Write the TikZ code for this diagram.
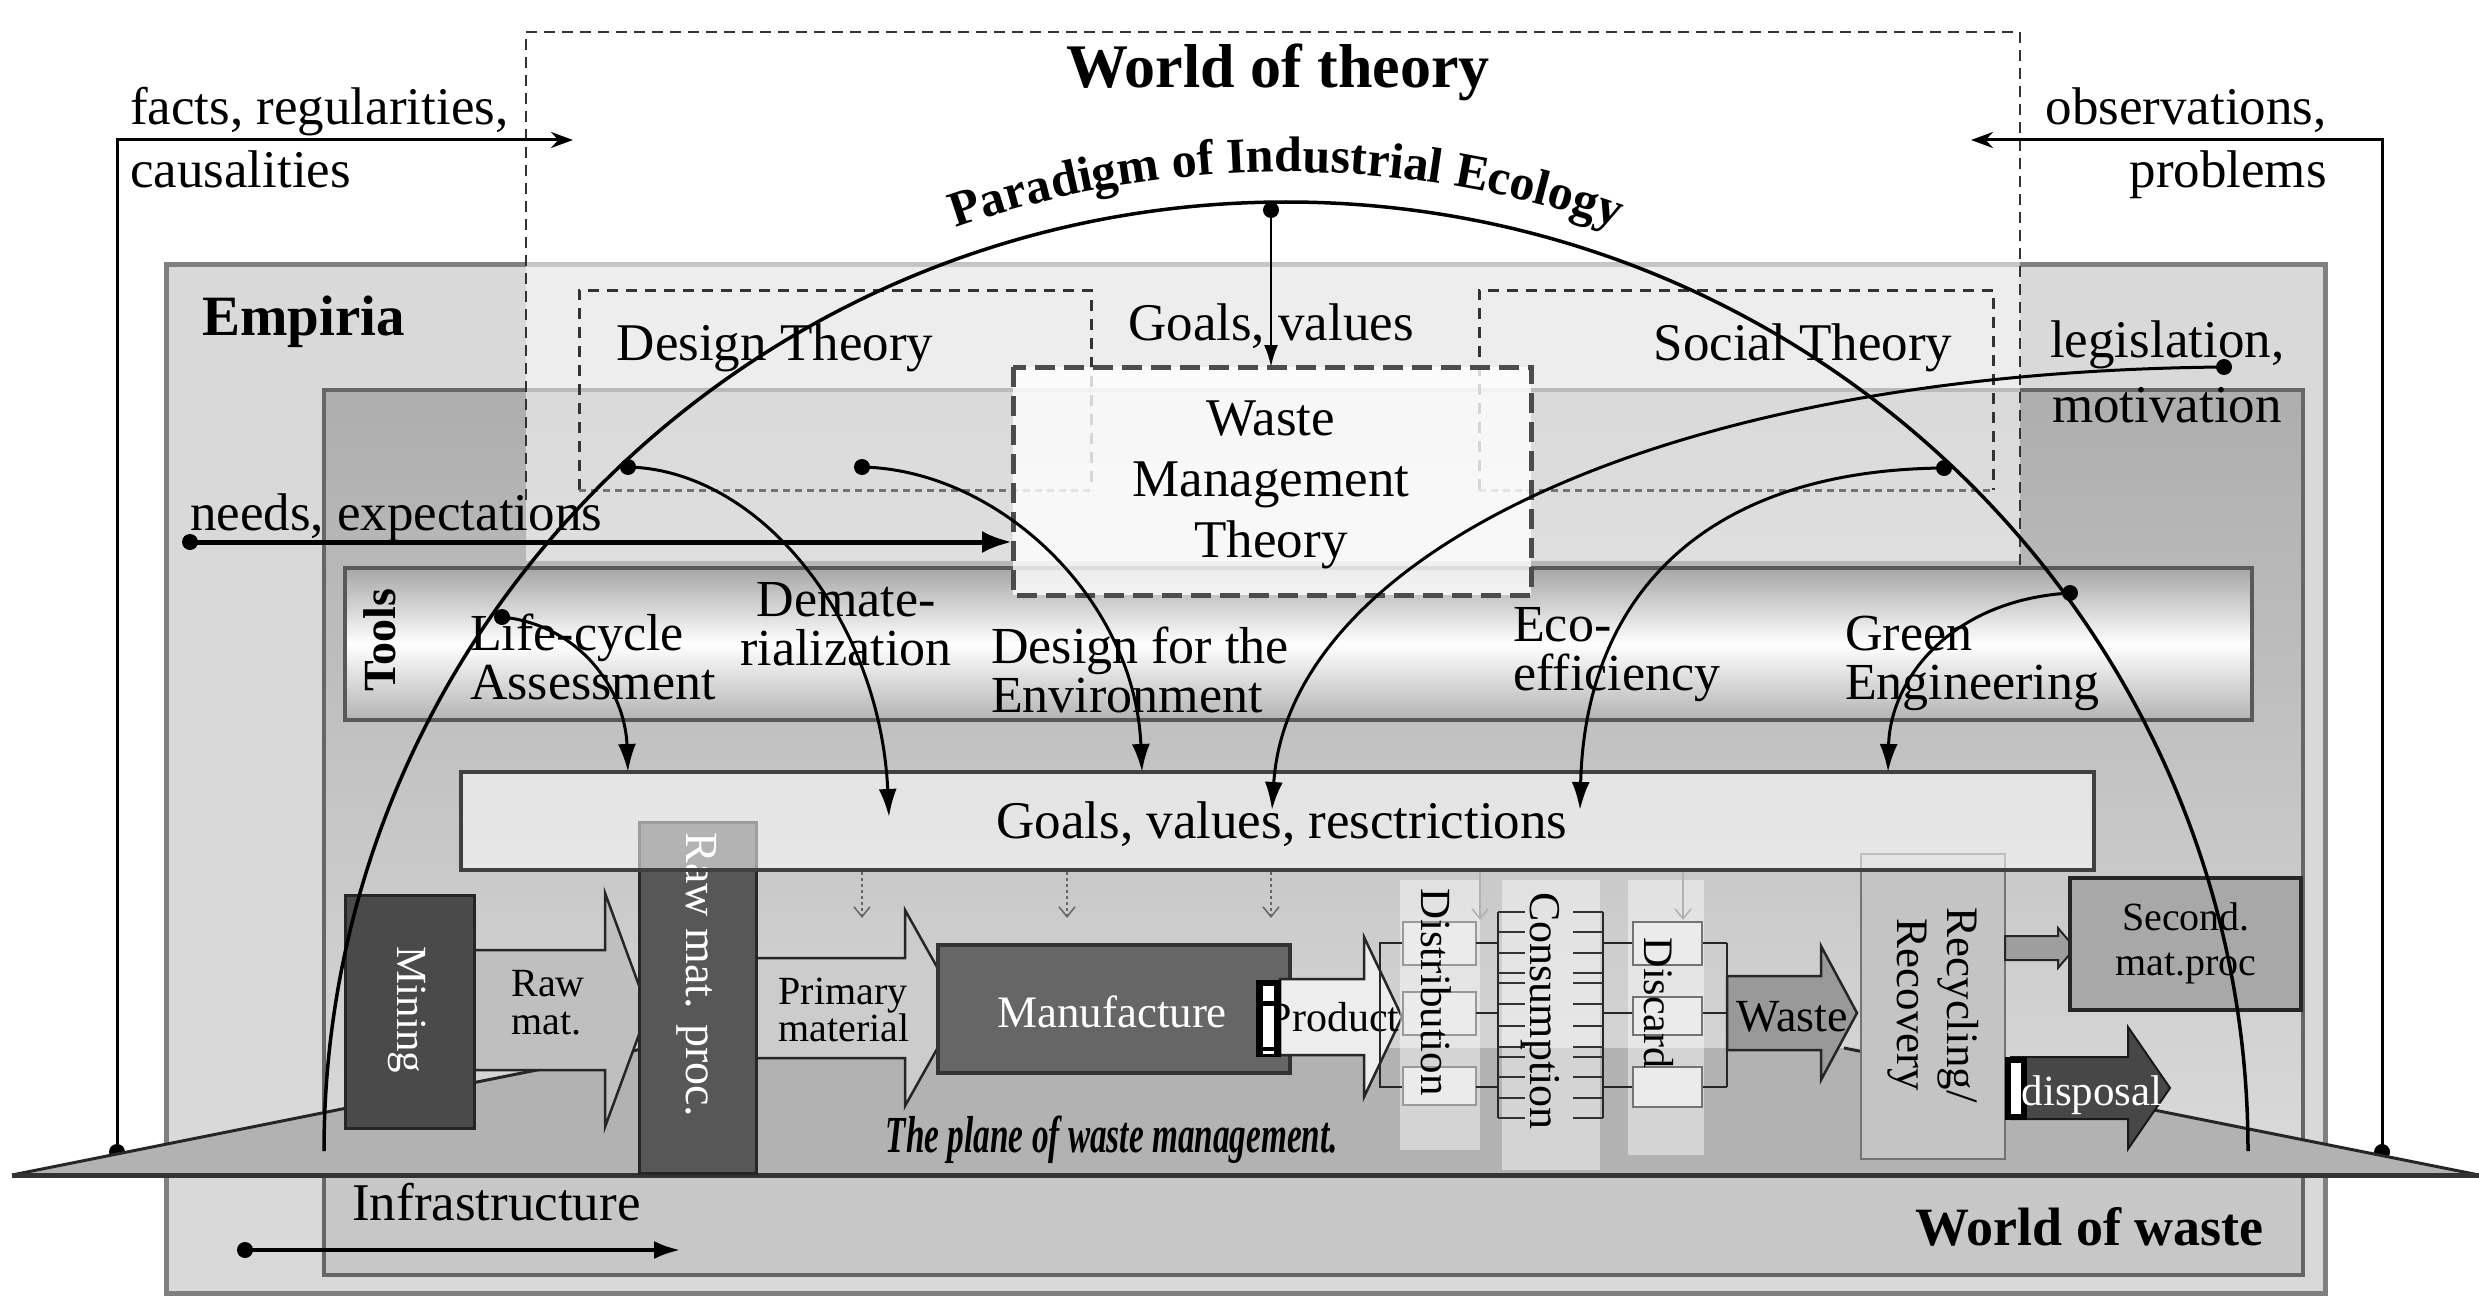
\documentclass[tikz,border=0pt]{standalone}
\usepackage{fontspec}
\setmainfont{Liberation Serif}
\usepackage{graphicx}
\usetikzlibrary{arrows.meta,decorations.text}
\newcommand\blockarrow[7]{%
  \draw[#7] (#1,#4-#5) -- (#2,#4-#5) -- (#2,#4-#6) -- (#3,#4) -- (#2,#4+#6) -- (#2,#4+#5) -- (#1,#4+#5) -- cycle;}
\tikzset{
  txt/.style={font=\fontsize{53}{60}\selectfont, inner sep=0pt},
  tooltxt/.style={font=\fontsize{52}{49}\selectfont, inner sep=0pt},
  ptxt/.style={font=\fontsize{43}{44}\selectfont, inner sep=0pt},
  btxt/.style={font=\fontsize{#1}{#1}\selectfont\bfseries, inner sep=0pt},
  dotn/.style={circle, fill=black, inner sep=0pt, minimum size=16pt},
  curv/.style={line width=3pt, -{Latex[length=28pt,width=18pt]}},
  thindash/.style={draw=black!80, line width=2pt, dash pattern=on 11pt off 7pt},
  theodash/.style={draw=black!80, line width=3pt, dash pattern=on 11pt off 8pt},
  theodot/.style={draw=black!55, line width=3pt, dash pattern=on 7pt off 5pt},
  wmtdash/.style={draw=black!70, line width=5pt, dash pattern=on 20pt off 9pt},
  dotarr/.style={draw=black!60, line width=1.5pt, dash pattern=on 3pt off 3pt, -{Straight Barb[length=10pt,width=16pt]}},
  lightarr/.style={draw=black!30, line width=1.5pt, -{Straight Barb[length=10pt,width=16pt]}},
  proc/.style={draw=black!85, line width=3pt},
  lnk/.style={draw=black!85, line width=2.5pt},
  smallbox/.style={draw=black!40, line width=2pt, fill=black!8},
}
\begin{document}
\begin{tikzpicture}[x=1pt,y=-1pt]
\useasboundingbox (0,0) rectangle (2479,1300);
\fill[white] (0,0) rectangle (2479,1300);

% ---------- outer boxes ----------
\draw[line width=5pt, draw=black!50, fill=black!15] (166,264) rectangle (2325,1293);
\draw[line width=4pt, draw=black!60, top color=black!32, bottom color=black!12] (324,390) rectangle (2303,1275);
\fill[black!22] (326,1175) rectangle (2301,1273);

% ---------- world of theory ----------
\fill[white, opacity=.55] (526,32) rectangle (2020,561);
\draw[thindash] (526,500) -- (526,32) -- (2020,32) -- (2020,565);

\draw[theodash] (579,490) -- (579,290) -- (1091,290) -- (1091,490);
\draw[theodot] (579,490) -- (1091,490);
\draw[theodash] (1479,490) -- (1479,290) -- (1993,290) -- (1993,490);
\draw[theodot] (1479,490) -- (1993,490);

% ---------- facts / observations ----------
\node[dotn] (dFacts) at (117,1152) {};
\coordinate (cFacts) at (117,140);
\coordinate (eFacts) at (573,140);
\draw[line width=3pt, -{Stealth[length=22pt,width=16pt]}] (dFacts.center) -- (cFacts) -- (eFacts);
\node[dotn] (dObs) at (2382,1152) {};
\coordinate (cObs) at (2382,140);
\coordinate (eObs) at (1971,140);
\draw[line width=3pt, -{Stealth[length=22pt,width=16pt]}] (dObs.center) -- (cObs) -- (eObs);

% ---------- needs ----------
\node[dotn] (dNeeds) at (190,542) {};
\coordinate (eNeeds) at (1012,542);
\draw[line width=5pt, -{Latex[length=30pt,width=22pt]}] (dNeeds.center) -- (eNeeds);

% ---------- tools ----------
\draw[line width=3.5pt, draw=black!65, top color=black!35, bottom color=black!30, middle color=white] (345,568) rectangle (2252,720);
\node[btxt=46, rotate=90] (tools) at (380,640) {Tools};
\node[tooltxt, align=left, anchor=west] (lca) at (470,657) {Life-cycle\\Assessment};
\node[tooltxt, align=center] (demat) at (846,624) {Demate-\\rialization};
\node[tooltxt, align=left, anchor=west] (dfe) at (991,670) {Design for the\\Environment};
\node[tooltxt, align=left, anchor=west] (eco) at (1513,655) {Eco-\\efficiency};
\node[tooltxt, align=left, anchor=west] (green) at (1845,663) {Green\\Engineering};

% ---------- plane ----------
\fill[black!30] (12,1175) -- (647,1048) -- (1844,1048) -- (2479,1175) -- cycle;
\draw[line width=3pt, black!85] (12,1175) -- (647,1048);
\draw[line width=3pt, black!85] (1844,1048) -- (2479,1175);
\draw[line width=5pt, black!80] (12,1175) -- (2479,1175);

% ---------- process row ----------
\blockarrow{474}{605}{648}{1010}{60}{117}{fill=black!25, draw=black!85, line width=2.5pt}
\draw[proc, fill=black!71] (345,895) rectangle (474,1128);
\node[ptxt, white, rotate=-90] (mining) at (407,1010) {Mining};
\node[inner sep=0pt, align=left, font=\fontsize{40}{38}\selectfont] (rawmat) at (548,1003) {Raw\\mat.};

\blockarrow{756}{905}{960}{1008}{50}{98}{fill=black!20, draw=black!85, line width=2.5pt}
\node[inner sep=0pt, align=left, font=\fontsize{40}{36}\selectfont] (primary) at (844,1010) {Primary\\material};

\draw[draw=black!80, line width=4pt, fill=black!60] (938,945) rectangle (1290,1073);
\node[white, inner sep=0pt, font=\fontsize{45}{45}\selectfont] (manuf) at (1112,1012) {Manufacture};

\blockarrow{1280}{1364}{1402}{1017}{38}{80}{fill=black!7, draw=black!85, line width=2.5pt}
\node[ptxt, font=\fontsize{42}{42}\selectfont] (product) at (1334,1017) {Product};
\fill[black] (1256,980) rectangle (1281,1057);
\fill[white] (1263,986) rectangle (1274,1001);
\fill[white] (1263,1006) rectangle (1274,1047);
\fill[white] (1263,1051) rectangle (1274,1054);

% light columns
\fill[white, opacity=.45] (1400,880) rectangle (1480,1150);
\fill[white, opacity=.45] (1502,880) rectangle (1600,1170);
\fill[white, opacity=.45] (1628,880) rectangle (1704,1155);

% distribution
\draw[lnk] (1405,943) -- (1380,943) -- (1380,1087) -- (1405,1087);
\draw[smallbox] (1403,922) rectangle (1476,965);
\draw[smallbox] (1403,992) rectangle (1476,1035);
\draw[smallbox] (1403,1067) rectangle (1476,1105);
\foreach \yy in {943,1013,1087} {\draw[lnk] (1476,\yy) -- (1498,\yy); \draw[lnk] (1603,\yy) -- (1633,\yy); \draw[lnk] (1702,\yy) -- (1727,\yy);}
\draw[lnk] (1727,943) -- (1727,1087);
% consumption comb
\draw[lnk] (1498,912) -- (1498,1118);
\draw[lnk] (1603,912) -- (1603,1118);
\foreach \yy in {912,932,953,973,983,1004,1026,1047,1057,1077,1098,1118} {\draw[draw=black!80, line width=2pt] (1498,\yy) -- (1525,\yy); \draw[draw=black!80, line width=2pt] (1573,\yy) -- (1603,\yy);}
% discard
\draw[smallbox, draw=black!55] (1633,922) rectangle (1702,965);
\draw[smallbox, draw=black!55] (1633,997) rectangle (1702,1035);
\draw[smallbox, draw=black!55] (1633,1067) rectangle (1702,1107);
\node[ptxt, rotate=-90] (distr) at (1436,992) {Distribution};
\node[ptxt, font=\fontsize{44}{44}\selectfont, rotate=-90] (consum) at (1540,1011) {Consumption};
\node[ptxt, font=\fontsize{42}{42}\selectfont, rotate=-90] (discard) at (1659,1003) {Discard};

\blockarrow{1727}{1821}{1857}{1013}{37}{67}{fill=black!40, draw=black!85, line width=2.5pt}
\node[inner sep=0pt, font=\fontsize{46}{46}\selectfont] (waste) at (1792,1017) {Waste};

\draw[draw=black!55, line width=2.5pt, fill=black!23] (1861,854) rectangle (2005,1159);
\node[inner sep=0pt, align=center, font=\fontsize{45}{50}\selectfont, rotate=-90] (recyc) at (1933,1005) {Recycling/\\Recovery};

\blockarrow{2005}{2058}{2075}{948}{12}{20}{fill=black!38, draw=black!85, line width=2pt}
\draw[draw=black!85, line width=4pt, fill=black!34] (2070,878) rectangle (2301,1010);
\node[inner sep=0pt, align=center, font=\fontsize{40}{45}\selectfont] (second) at (2186,943) {Second.\\mat.proc};

\blockarrow{2011}{2128}{2170}{1088}{31}{61}{fill=black!72, draw=black!90, line width=2pt}
\fill[black] (2005,1057) rectangle (2027,1120);
\fill[white] (2011,1063) rectangle (2021,1114);
\node[white, inner sep=0pt, font=\fontsize{43}{43}\selectfont] (disposal) at (2092,1095) {disposal};

% raw mat proc
\draw[proc, fill=black!66] (639,822) rectangle (756,1173);
\node[white, inner sep=0pt, font=\fontsize{46}{46}\selectfont, rotate=-90] (rawproc) at (697,975) {Raw mat. proc.};

\node[inner sep=0pt, font=\fontsize{52}{52}\selectfont\bfseries\itshape] (plane) at (1112,1140) {\scalebox{0.64}[1]{The plane of waste management.}};

% ---------- goals box ----------
\draw[line width=3.5pt, draw=black!75, fill=white, fill opacity=.55] (461,772) rectangle (2094,870);
\node[txt, anchor=base] (gvr) at (1282,838) {Goals, values, resctrictions};
\foreach \xx in {862,1067,1271} {\draw[dotarr] (\xx,872) -- (\xx,918);}
\foreach \xx in {1480,1683} {\draw[lightarr] (\xx,872) -- (\xx,920);}

% ---------- waste management theory ----------
\draw[wmtdash, fill=white, fill opacity=.8] (1013,367) rectangle (1531,595);
\node[inner sep=0pt, align=center, font=\fontsize{53}{61}\selectfont] (wmt) at (1271,485) {Waste\\Management\\Theory};

% ---------- paradigm arc ----------
\draw[line width=3.5pt] (324,1151) arc[start angle=180, end angle=360, x radius=962, y radius=949];
\path[decorate, decoration={text along path, text align=center,
  text={|\fontsize{50}{50}\selectfont\bfseries|Paradigm of Industrial Ecology}}]
  (717,349) arc[start angle=235, end angle=305, x radius=992, y radius=979];

% ---------- curved arrows ----------
\node[dotn] (dTop) at (1271,210) {};
\coordinate (eTop) at (1271,367);
\draw[line width=2.5pt, -{Latex[length=22pt,width=14pt]}] (dTop.center) -- (eTop);

\node[dotn] (dLeg) at (2224,367) {};
\coordinate (eLeg) at (1272,810);
\draw[curv] (dLeg.center) .. controls (1650,372) and (1288,560) .. (eLeg);

\node[dotn] (dEco) at (1944,468) {};
\coordinate (eEco) at (1580,810);
\draw[curv] (dEco.center) .. controls (1700,470) and (1585,600) .. (eEco);

\node[dotn] (dGreen) at (2070,593) {};
\coordinate (eGreen) at (1888,772);
\draw[curv] (dGreen.center) .. controls (1950,600) and (1890,680) .. (eGreen);

\node[dotn] (dDesign) at (628,467) {};
\coordinate (eDesign) at (889,817);
\draw[curv] (dDesign.center) .. controls (760,470) and (880,620) .. (eDesign);

\node[dotn] (dDesign2) at (862,467) {};
\coordinate (eDesign2) at (1142,772);
\draw[curv] (dDesign2.center) .. controls (1000,470) and (1135,600) .. (eDesign2);

\node[dotn] (dLCA) at (502,617) {};
\coordinate (eLCA) at (628,772);
\draw[curv] (dLCA.center) .. controls (580,625) and (625,690) .. (eLCA);

% ---------- infrastructure ----------
\node[dotn] (dInfra) at (245,1250) {};
\coordinate (eInfra) at (680,1250);
\draw[line width=3.5pt, -{Latex[length=26pt,width=18pt]}] (dInfra.center) -- (eInfra);

% ---------- labels ----------
\node[btxt=62, anchor=base] (wot) at (1278,88) {World of theory};
\node[txt, anchor=base west] (facts1) at (130,125) {facts, regularities,};
\node[txt, anchor=base west] (facts2) at (130,188) {causalities};
\node[txt, anchor=base east] (obs1) at (2327,125) {observations,};
\node[txt, anchor=base east] (obs2) at (2327,188) {problems};
\node[btxt=57, anchor=base west] (empiria) at (202,335) {Empiria};
\node[txt, anchor=base] (dt) at (775,360) {Design Theory};
\node[txt, anchor=base] (st) at (1803,360) {Social Theory};
\node[txt, anchor=base] (gv) at (1271,340) {Goals, values};
\node[txt, anchor=base west] (leg) at (2050,357) {legislation,};
\node[txt, anchor=base west] (mot) at (2052,422) {motivation};
\node[txt, anchor=base west] (needs) at (190,530) {needs, expectations};
\node[txt, anchor=base west] (infra) at (352,1220) {Infrastructure};
\node[btxt=54, anchor=base east] (wow) at (2264,1245) {World of waste};
\end{tikzpicture}
\end{document}
